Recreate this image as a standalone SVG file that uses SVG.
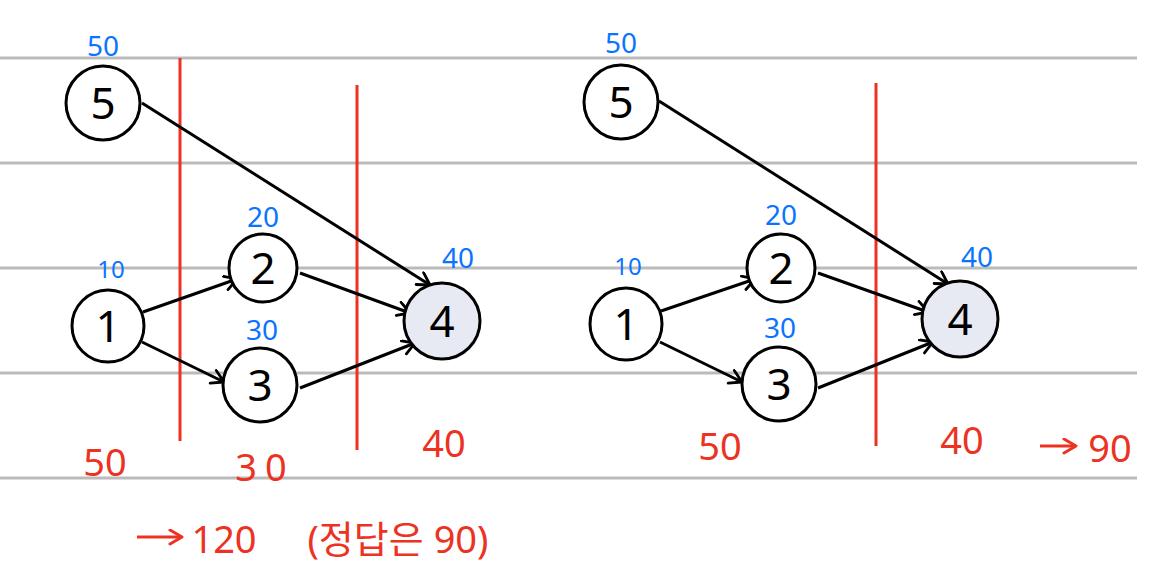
<svg xmlns="http://www.w3.org/2000/svg" width="1160" height="579" viewBox="0 0 1160 579">
<defs>
<marker id="arr" markerUnits="userSpaceOnUse" markerWidth="20" markerHeight="20" refX="14" refY="8" orient="auto">
<path d="M2,1 L14,8 L2,15" fill="none" stroke="#000" stroke-width="2.8" stroke-linecap="round" stroke-linejoin="round"/>
</marker>
<marker id="rarr" markerUnits="userSpaceOnUse" markerWidth="20" markerHeight="20" refX="14" refY="8" orient="auto">
<path d="M2,1 L14,8 L2,15" fill="none" stroke="#ec3323" stroke-width="3" stroke-linecap="round" stroke-linejoin="round"/>
</marker>
</defs>
<style>
.rule{stroke:#bbbbbb;stroke-width:3}
.cut{stroke:#ec3323;stroke-width:3}
.node circle{fill:#fff;stroke:#000;stroke-width:3}
.node.goal circle{fill:#e8eaf3}
.num{font-family:"Noto Sans","Liberation Sans",sans-serif;font-size:44px;fill:#000;text-anchor:middle}
.blue{font-family:"Noto Sans","Liberation Sans",sans-serif;font-size:28px;fill:#0a74ff;text-anchor:middle}
.red{font-family:"Noto Sans","Liberation Sans","Noto Sans CJK KR",sans-serif;font-size:38px;fill:#ec3323;text-anchor:middle}
.edge{stroke:#000;stroke-width:3;fill:none;marker-end:url(#arr)}
</style>
<rect width="1160" height="579" fill="#fff"/>
<g id="rules">
<line class="rule" x1="0" y1="58" x2="1137" y2="58"/>
<line class="rule" x1="0" y1="163" x2="1137" y2="163"/>
<line class="rule" x1="0" y1="268" x2="1137" y2="268"/>
<line class="rule" x1="0" y1="373" x2="1137" y2="373"/>
<line class="rule" x1="0" y1="478" x2="1137" y2="478"/>
</g>
<g id="cuts">
<line class="cut" x1="180" y1="58" x2="180" y2="441"/>
<line class="cut" x1="357" y1="85" x2="357" y2="450"/>
<line class="cut" x1="876" y1="83" x2="876" y2="446"/>
</g>
<g id="connectors">
<line class="edge" x1="142" y1="103" x2="430" y2="285"/>
<line class="edge" x1="143" y1="312" x2="237" y2="279"/>
<line class="edge" x1="142" y1="342" x2="224" y2="382"/>
<line class="edge" x1="300" y1="273" x2="410" y2="313"/>
<line class="edge" x1="300" y1="388" x2="415" y2="343"/>
<line class="edge" x1="659" y1="101" x2="948" y2="284"/>
<line class="edge" x1="661" y1="311" x2="755" y2="279"/>
<line class="edge" x1="660" y1="342" x2="742" y2="382"/>
<line class="edge" x1="818" y1="273" x2="928" y2="312"/>
<line class="edge" x1="818" y1="388" x2="933" y2="342"/>
</g>
<g id="left-5" class="node"><circle cx="103" cy="103" r="37"/><text class="num" x="103" y="119">5</text></g>
<g id="left-1" class="node"><circle cx="108" cy="326" r="36"/><text class="num" x="108" y="342">1</text></g>
<g id="left-2" class="node"><circle cx="263" cy="268" r="34"/><text class="num" x="263" y="284">2</text></g>
<g id="left-3" class="node"><circle cx="260" cy="385" r="37"/><text class="num" x="260" y="401">3</text></g>
<g id="left-4" class="node goal"><circle cx="442" cy="321" r="38"/><text class="num" x="442" y="337">4</text></g>
<g id="right-5" class="node"><circle cx="621" cy="102" r="37"/><text class="num" x="621" y="118">5</text></g>
<g id="right-1" class="node"><circle cx="626" cy="324" r="36"/><text class="num" x="626" y="340">1</text></g>
<g id="right-2" class="node"><circle cx="781" cy="268" r="34"/><text class="num" x="781" y="284">2</text></g>
<g id="right-3" class="node"><circle cx="779" cy="384" r="37"/><text class="num" x="779" y="400">3</text></g>
<g id="right-4" class="node goal"><circle cx="960" cy="319" r="38"/><text class="num" x="960" y="335">4</text></g>
<g id="weights">
<text class="blue" x="103" y="56">50</text>
<text class="blue" x="263" y="227">20</text>
<text class="blue" x="111" y="278" style="font-size:24px">10</text>
<text class="blue" x="262" y="340">30</text>
<text class="blue" x="458" y="268">40</text>
<text class="blue" x="621" y="53">50</text>
<text class="blue" x="781" y="225">20</text>
<text class="blue" x="628" y="275" style="font-size:24px">10</text>
<text class="blue" x="780" y="338">30</text>
<text class="blue" x="977" y="267">40</text>
</g>
<g id="sums">
<text class="red" x="105" y="476">50</text>
<text class="red" x="265" y="481" letter-spacing="8">30</text>
<text class="red" x="444" y="457">40</text>
<line x1="137" y1="537" x2="182" y2="537" stroke="#ec3323" stroke-width="3" marker-end="url(#rarr)"/>
<text class="red" x="224" y="553">120</text>
<text class="red" x="398" y="553">(정답은 90)</text>
<text class="red" x="720" y="460">50</text>
<text class="red" x="962" y="454">40</text>
<line x1="1040" y1="446" x2="1076" y2="446" stroke="#ec3323" stroke-width="3" marker-end="url(#rarr)"/>
<text class="red" x="1110" y="462">90</text>
</g>
</svg>
